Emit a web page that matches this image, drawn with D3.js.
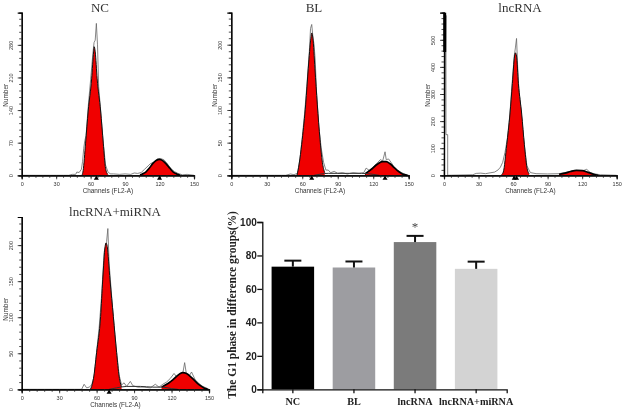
<!DOCTYPE html>
<html><head><meta charset="utf-8">
<script src="https://cdn.jsdelivr.net/npm/d3@7/dist/d3.min.js"></script>
<style>html,body{margin:0;padding:0;background:#fff}svg{display:block;filter:blur(.35px)}</style>
</head><body><svg id="c" width="623" height="413"></svg>
<script>
// [channel, count] pairs
const ncG1=[[52.5,0],[53.5,10],[55.6,69],[57.9,138],[60.9,207],[62.6,265],[63.1,276],[64,265],[65.7,207],[68.7,138],[71,69],[73,15],[75,2]];
const ncG2=[[103,1],[105,3],[108,7],[111,15],[114,25],[117,32],[120,34],[123,31],[126,24],[129,15],[132,7],[135,3],[138,0]];
const ncRaw=[[0,0],[41,0],[44,2],[47,2],[48,7],[50,6],[52,13],[53,30],[54,58],[55,75],[56,85],[58,150],[60,205],[62,262],[63,285],[64,290],[65,326],[66,280],[67,190],[68.7,140],[71,70],[73,22],[75,8],[77,3],[80,3],[85,2],[90,3],[95,2],[98,5],[101,4],[104,6],[107,13],[110,20],[112,25],[115,28],[118,35],[121,36],[124,33],[127,24],[130,14],[133,8],[136,4],[140,1],[144,2],[150,0]];
const blG1=[[55.5,0],[56.5,8],[58,25],[60,55],[62.9,109],[65.1,164],[67.3,210],[68,218],[69,210],[70.7,164],[72.7,109],[75,55],[77,20],[79,4]];
const blG2=[[113,2],[116,6],[119,10],[122,15],[125,19],[128,21],[131,21],[134,18],[137,13],[140,8],[143,4],[146,1],[149,0]];
const blS=[[70,0],[76,2],[82,3],[90,3],[100,3],[110,3],[118,2],[125,0]];
const blRaw=[[0,0],[46,0],[50,2],[53,1],[56,3],[58,25],[60,58],[62,95],[64,140],[66,190],[67,225],[68,231],[69,212],[70,200],[71,175],[72,130],[74,75],[76,42],[78,20],[80,8],[82,8],[84,4],[87,6],[90,3],[94,4],[98,2],[103,4],[108,3],[112,4],[114,11],[117,7],[120,13],[123,18],[126,24],[128,22],[130,36],[131,24],[133,25],[135,20],[138,12],[141,7],[144,4],[148,1],[150,0]];
const lnG1=[[50,2],[51.5,12],[54.5,113],[57.3,226],[59.4,339],[61.3,440],[62,452],[63,440],[64.6,339],[67.5,226],[69.8,113],[72,30],[74,5]];
const lnG2=[[100,4],[105,8],[110,14],[115,18],[120,17],[125,11],[130,4],[134,0]];
const lnRaw=[[0,0],[1.7,590],[1.7,150],[3.2,150],[3.2,0],[25,2],[28,7],[32,8],[36,6],[40,9],[44,12],[47,20],[49,30],[51,48],[53,85],[55,135],[57,215],[59,330],[61,440],[62,470],[63,505],[64,400],[65,320],[66,280],[68,190],[70,105],[72,35],[75,10],[80,6],[90,5],[100,6],[105,10],[110,15],[115,17],[120,16],[124,22],[127,10],[131,5],[136,2],[150,0]];
const miG1=[[55,0],[56,4],[57.5,15],[60,51],[63.2,101],[64.9,152],[66.8,198],[67.5,203],[68.5,198],[70.7,152],[73.4,101],[76,51],[78,18],[80,3]];
const miG2=[[112,3],[115,6],[118,9],[121,13],[124,18],[127,22],[129,23],[132,22],[135,18],[138,13],[141,8],[144,4],[147,1],[149,0]];
const miS=[[70,0],[76,2],[84,4],[95,4],[105,3],[113,3],[120,1],[125,0]];
const miRaw=[[0,0],[48,0],[50,7],[52,2],[54,3],[56,6],[58,18],[60,52],[62,85],[64,130],[66,190],[68,205],[69,223],[70,175],[72,130],[74,88],[76,52],[78,20],[80,6],[82,9],[84,4],[87,11],[89,5],[93,3],[98,3],[103,2],[107,7],[110,3],[113,7],[116,10],[119,15],[122,22],[125,15],[127,20],[129,22],[130.5,37],[132,20],[134,18],[136,24],[139,13],[142,8],[145,4],[149,1],[150,0]];

const barCategories=["NC","BL","lncRNA","lncRNA+miRNA"];
const barValues=[73.3,72.8,88,72];
const barErrors=[3.6,3.6,3.7,4.3];
const barColors=["#000000","#9d9da1","#7b7b7b","#d3d3d3"];
const barTicks=[0,20,40,60,80,100];
const channelTicks=[0,30,60,90,120,150];

const svg=d3.select("#c");
const serif="'Liberation Serif','Times New Roman',serif", sans="'Liberation Sans',Arial,sans-serif";

function panel(o){
  const x=d3.scaleLinear().domain([0,150]).range([o.l,o.r]);
  const y=d3.scaleLinear().domain([0,o.ymax]).range([o.b,o.t]);
  const g=svg.append("g");
  const area=d3.area().x(d=>x(d[0])).y0(o.b).y1(d=>y(d[1])).curve(d3.curveMonotoneX);
  const line=d3.line().x(d=>x(d[0])).y(d=>y(d[1]));
  const cline=d3.line().x(d=>x(d[0])).y(d=>y(d[1])).curve(d3.curveMonotoneX);
  g.append("path").attr("d",line(o.raw)).attr("fill","none").attr("stroke","#666").attr("stroke-width",.8);
  [o.g1,o.g2].forEach(s=>g.append("path").attr("d",area(s)).attr("fill","#f00000"));
  g.append("path").attr("d",cline(o.g1)).attr("fill","none").attr("stroke","#111").attr("stroke-width",1);
  g.append("path").attr("d",cline(o.g2)).attr("fill","none").attr("stroke","#000").attr("stroke-width",1.7);
  if(o.s) g.append("path").attr("d",cline(o.s)).attr("fill","none").attr("stroke","#333").attr("stroke-width",1);
  const xa=g.append("g").attr("transform",`translate(0,${o.b})`).call(d3.axisBottom(x).tickValues(channelTicks).tickSize(4).tickPadding(3));
  const xm=g.append("g").attr("transform",`translate(0,${o.b})`).call(d3.axisBottom(x).tickValues(d3.range(0,151,6)).tickSize(2.5).tickFormat(""));
  const ya=g.append("g").attr("transform",`translate(${o.l},0)`).call(d3.axisLeft(y).tickValues(o.ticks).tickSize(4).tickPadding(3));
  const ym=g.append("g").attr("transform",`translate(${o.l},0)`).call(d3.axisLeft(y).tickValues(d3.range(0,o.ymax+.01,o.minor)).tickSize(2.5).tickFormat(""));
  [xa,xm,ya,ym].forEach(a=>{a.selectAll("path.domain").attr("stroke","#000").attr("stroke-width",1.2);a.selectAll("line").attr("stroke","#222").attr("stroke-width",.8)});
  xa.selectAll("text").attr("font-family",sans).attr("font-size",5.5).attr("fill","#333");
  ya.selectAll("text").attr("font-family",sans).attr("font-size",5.5).attr("fill","#333").attr("text-anchor","middle").attr("dy",0).attr("x",0).attr("y",0)
    .attr("transform","translate(-9,0) rotate(-90)");
  if(o.spike) g.append("line").attr("x1",x(.6)).attr("x2",x(.6)).attr("y1",o.t).attr("y2",y(o.spike)).attr("stroke","#000").attr("stroke-width",3);
  o.marks.forEach(m=>g.append("path").attr("d",d3.symbol(d3.symbolTriangle,11)()).attr("transform",`translate(${x(m)},${o.b+3})`).attr("fill","#000"));
  g.append("text").attr("x",(o.l+o.r)/2).attr("y",o.b+17.5).attr("text-anchor","middle").attr("font-family",sans).attr("font-size",6.4).attr("fill","#333").text("Channels (FL2-A)");
  g.append("text").attr("transform",`translate(${o.l-14},${o.b-80}) rotate(-90)`).attr("text-anchor","middle").attr("font-family",sans).attr("font-size",6.4).attr("fill","#333").text("Number");
  svg.append("text").attr("x",o.tx).attr("y",o.ty).attr("text-anchor","middle").attr("font-family",serif).attr("font-size",13).attr("fill","#333").text(o.title);
}

panel({title:"NC",tx:100,ty:12,l:21.7,r:194,t:12.7,b:175.3,ymax:349,ticks:[0,70,140,210,280],minor:14,g1:ncG1,g2:ncG2,raw:ncRaw,marks:[65,120]});
panel({title:"BL",tx:314,ty:12,l:231.3,r:408.7,t:12.7,b:175.3,ymax:249,ticks:[0,50,100,150,200],minor:10,g1:blG1,g2:blG2,s:blS,raw:blRaw,marks:[68,130]});
panel({title:"lncRNA",tx:520,ty:12,l:444,r:616.7,t:12.7,b:175.3,ymax:600,ticks:[0,100,200,300,400,500],minor:20,g1:lnG1,g2:lnG2,raw:lnRaw,marks:[61,63],spike:455});
panel({title:"lncRNA+miRNA",tx:115,ty:216,l:21.7,r:209,t:217,b:389.3,ymax:239,ticks:[0,50,100,150,200],minor:10,g1:miG1,g2:miG2,s:miS,raw:miRaw,marks:[70]});

const bx=d3.scaleBand().domain(barCategories).range([262.3,506.7]).paddingInner(.304).paddingOuter(.152);
const by=d3.scaleLinear().domain([0,100]).range([389.3,222]);
const bg=svg.append("g");
bg.selectAll("rect.b").data(barValues).join("rect").attr("class","b")
  .attr("x",(d,i)=>bx(barCategories[i])).attr("width",bx.bandwidth())
  .attr("y",d=>by(d)).attr("height",d=>by(0)-by(d)).attr("fill",(d,i)=>barColors[i]);
barValues.forEach((v,i)=>{
  const cx=bx(barCategories[i])+bx.bandwidth()/2, top=by(v+barErrors[i]);
  bg.append("line").attr("x1",cx).attr("x2",cx).attr("y1",by(v)).attr("y2",top).attr("stroke","#111").attr("stroke-width",2);
  bg.append("line").attr("x1",cx-8.5).attr("x2",cx+8.5).attr("y1",top).attr("y2",top).attr("stroke","#111").attr("stroke-width",2);
});
const bxa=bg.append("g").attr("transform","translate(0,389.3)").call(d3.axisBottom(bx).tickSize(4).tickPadding(4));
const bya=bg.append("g").attr("transform","translate(262.3,0)").call(d3.axisLeft(by).tickValues(barTicks).tickSize(5).tickPadding(0.5));
[bxa,bya].forEach(a=>{a.selectAll("path.domain").attr("stroke","#111").attr("stroke-width",1.3);a.selectAll("line").attr("stroke","#111").attr("stroke-width",1.3)});
bxa.selectAll("text").attr("font-family",serif).attr("font-weight","bold").attr("font-size",10.2).attr("fill","#222");
bya.selectAll("text").attr("font-family",sans).attr("font-weight","bold").attr("font-size",10).attr("fill","#222");
svg.append("text").attr("transform","translate(235.5,305) rotate(-90)").attr("text-anchor","middle").attr("font-family",serif).attr("font-weight","bold").attr("font-size",11.5).attr("fill","#222").text("The G1 phase in difference groups(%)");
svg.append("text").attr("x",415).attr("y",231).attr("text-anchor","middle").attr("font-family",serif).attr("font-size",13).attr("fill","#444").text("*");
</script></body></html>
